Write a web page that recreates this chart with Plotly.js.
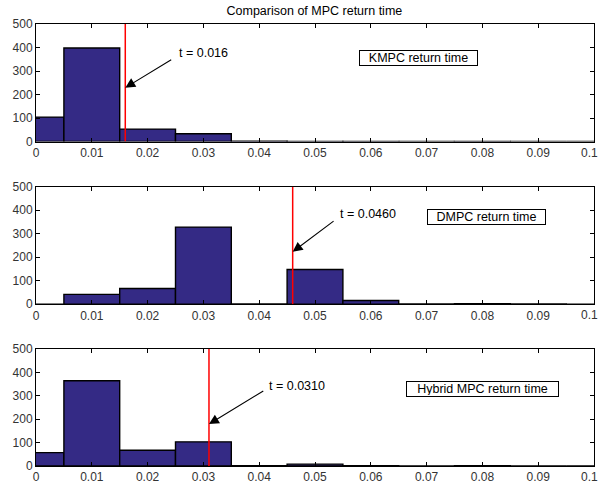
<!DOCTYPE html>
<html><head><meta charset="utf-8">
<script src="https://cdn.plot.ly/plotly-3.0.1.min.js"></script>
<style>body{margin:0;padding:0;background:#fff}#c{width:600px;height:485px}</style>
</head><body><div id="c"></div>
<script>
const binCenters = [0, 0.01, 0.02, 0.03, 0.04, 0.05, 0.06, 0.07, 0.08, 0.09, 0.1];
const kmpcCounts = [104, 398, 53, 33, 2, 1, 1, 0, 1, 0, 0];
const dmpcCounts = [0, 42, 67, 328, 1, 148, 16, 1, 2, 1, 0];
const hybridCounts = [57, 364, 67, 103, 1, 8, 1, 0, 1, 0, 0];
const panelLabels = ["KMPC return time", "DMPC return time", "Hybrid MPC return time"];
const markerTimes = [0.016, 0.046, 0.031];
const markerTexts = ["t = 0.016", "t = 0.0460", "t = 0.0310"];
const titleText = "Comparison of MPC return time";
const xTicks = [0,0.01,0.02,0.03,0.04,0.05,0.06,0.07,0.08,0.09,0.1];
const xTickText = ["0","0.01","0.02","0.03","0.04","0.05","0.06","0.07","0.08","0.09",""];
const lastTickText = "0.1";
const yTicks = [0,100,200,300,400,500];

const series = [kmpcCounts, dmpcCounts, hybridCounts];
const domains = [[0.734,1],[0.366,0.632],[0,0.265]];
const arrowTail = [[0.0245,352],[0.0536,358],[0.041,324]];
const arrowHeadY = [229,223,179];
const textPos = [[0.0252,378],[0.0541,383],[0.0414,343]];
const boxPos = [[0.0686,354],[0.0808,373],[0.0801,328]];
const boxW = [115,115,149];

const fam = "Liberation Sans, Arial, Helvetica, sans-serif";
const traces = [], shapes = [], annotations = [];
const layout = {
  width:600, height:485, showlegend:false, bargap:0,
  margin:{l:36,r:6,t:24,b:19}, paper_bgcolor:"#fff", plot_bgcolor:"#fff",
  font:{family:fam,size:12,color:"#000"},
  title:{text:titleText, font:{family:fam,size:12.5,color:"#000"}, x:0.524, xanchor:"center", y:0.978, yanchor:"middle"}
};
series.forEach((vals,i)=>{
  const n = i===0 ? "" : String(i+1);
  traces.push({type:"bar", x:binCenters, y:vals, width:0.01, xaxis:"x"+n, yaxis:"y"+n,
    marker:{color:"#342a85", line:{color:"#000", width:1.4}}, hoverinfo:"skip"});
  layout["xaxis"+n] = {range:[0,0.1], tickvals:xTicks, ticktext:xTickText, ticks:"inside", ticklen:4, tickcolor:"#000",
    showline:true, linecolor:"#000", linewidth:1, mirror:"ticks", showgrid:false, zeroline:false,
    tickfont:{family:fam,size:12,color:"#333"}, anchor:"y"+n, fixedrange:true};
  layout["yaxis"+n] = {range:[0,500], tickvals:yTicks, ticks:"inside", ticklen:4, tickcolor:"#000",
    showline:true, linecolor:"#000", linewidth:1, mirror:"ticks", showgrid:false, zeroline:false,
    tickfont:{family:fam,size:12,color:"#333"}, domain:domains[i], anchor:"x"+n, fixedrange:true};
  shapes.push({type:"line", xref:"x"+n, yref:"y"+n, x0:markerTimes[i], x1:markerTimes[i], y0:0, y1:500,
    line:{color:"#ff0000", width:1.5}});
  annotations.push({xref:"x"+n, yref:"y"+n+" domain", x:xTicks[xTicks.length-1], y:0, yanchor:"top", xanchor:"right",
    xshift:6, yshift:-2, text:lastTickText, showarrow:false, font:{family:fam,size:12,color:"#333"}});
  annotations.push({xref:"x"+n, yref:"y"+n, axref:"x"+n, ayref:"y"+n, x:markerTimes[i], y:arrowHeadY[i],
    ax:arrowTail[i][0], ay:arrowTail[i][1], text:"", showarrow:true, arrowhead:2, arrowsize:1.8, arrowwidth:1.1, arrowcolor:"#000"});
  annotations.push({xref:"x"+n, yref:"y"+n, x:textPos[i][0], y:textPos[i][1], text:markerTexts[i], showarrow:false,
    xanchor:"left", yanchor:"middle", font:{family:fam,size:12.5,color:"#000"}});
  annotations.push({xref:"x"+n, yref:"y"+n, x:boxPos[i][0], y:boxPos[i][1], text:panelLabels[i], showarrow:false,
    xanchor:"center", yanchor:"middle", bordercolor:"#000", borderwidth:1, borderpad:1, bgcolor:"#fff",
    width:boxW[i], height:12, align:"center",
    font:{family:fam,size:12.5,color:"#000"}});
});
layout.shapes = shapes; layout.annotations = annotations;
Plotly.newPlot("c", traces, layout, {staticPlot:true});
</script></body></html>
